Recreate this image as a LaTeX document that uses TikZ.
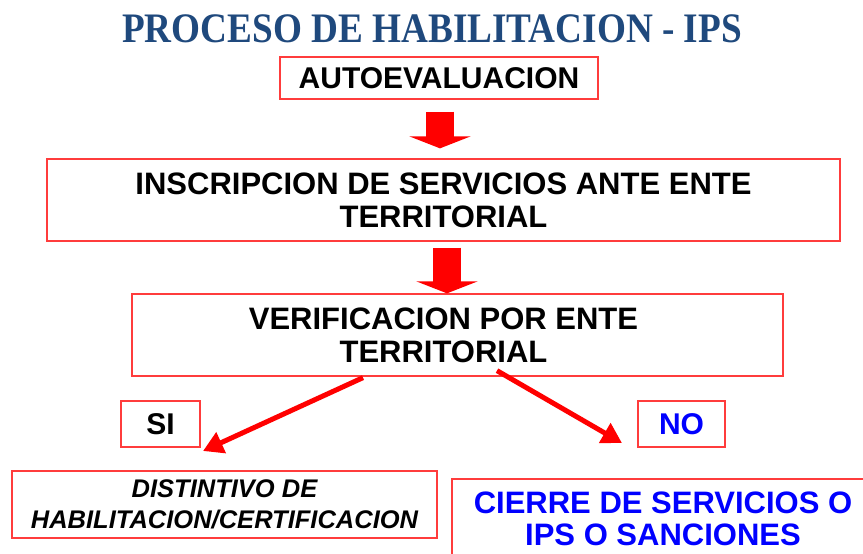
\documentclass[tikz,border=0pt]{standalone}
\usepackage{fontspec}
\setmainfont{Liberation Sans}
\newfontfamily\titlefont{Liberation Serif}
\usetikzlibrary{arrows.meta,calc}
\definecolor{boxred}{RGB}{255,60,60}
\definecolor{titleblue}{RGB}{31,73,125}
\definecolor{textblue}{RGB}{0,0,255}
\tikzset{
  box/.style={draw=boxred, line width=1.3pt, align=center, inner sep=0pt,
    font=\bfseries\fontsize{30}{33}\selectfont},
  bigtext/.style={font=\bfseries\fontsize{31}{33}\selectfont},
  blockarrow/.style={draw=red, line width=28pt, -{Triangle[length=12pt,width=61pt]}},
  diagarrow/.style={draw=red, line width=5pt, -{Triangle[length=20pt,width=22pt]}},
}
\begin{document}
\begin{tikzpicture}[x=1pt,y=-1pt]
\useasboundingbox (0,0) rectangle (863,554);
\node[anchor=base, text=titleblue] (title) at (432,42)
  {\scalebox{0.886}[1]{\titlefont\bfseries\fontsize{42}{42}\selectfont PROCESO DE HABILITACION - IPS}};
\node[box, minimum width=318pt, minimum height=42pt] (b1) at (439,78) {AUTOEVALUACION};
\node[box, bigtext, minimum width=793pt, minimum height=82pt] (b2) at (443.5,200)
  {INSCRIPCION DE SERVICIOS ANTE ENTE\\TERRITORIAL};
\node[box, minimum width=651pt, minimum height=82pt] (b3) at (457.5,335) {};
\node[bigtext, align=center, inner sep=0pt] (b3text) at (443.5,335)
  {VERIFICACION POR ENTE\\TERRITORIAL};
\node[box, minimum width=79pt, minimum height=46pt] (si) at (160.5,424) {SI};
\node[box, minimum width=87pt, minimum height=46pt, text=textblue] (no) at (681.5,424) {NO};
\node[box, minimum width=425pt, minimum height=67pt,
  font=\bfseries\itshape\fontsize{25.5}{31}\selectfont] (dist) at (224.5,504.5)
  {DISTINTIVO DE\\HABILITACION/CERTIFICACION};
\node[box, minimum width=422pt, minimum height=80pt, text=textblue,
  font=\bfseries\fontsize{31}{32}\selectfont] (cierre) at (663,519)
  {CIERRE DE SERVICIOS O\\IPS O SANCIONES};
% block arrows
\draw[blockarrow] ($(b1.south)+(1,12)$) -- ($(b2.north)+(-3.5,-10)$);
\draw[blockarrow] ($(b2.south)+(3.5,6)$) -- ($(b3.north)+(-10.5,0)$);
% diagonal arrows
\coordinate (ltip) at (203,451);
\coordinate (rtip) at (622,443);
\draw[diagarrow] ($(b3.south)+(-94.5,1)$) -- (ltip);
\draw[diagarrow] ($(b3.south)+(39.5,-6)$) -- (rtip);
\end{tikzpicture}
\end{document}
